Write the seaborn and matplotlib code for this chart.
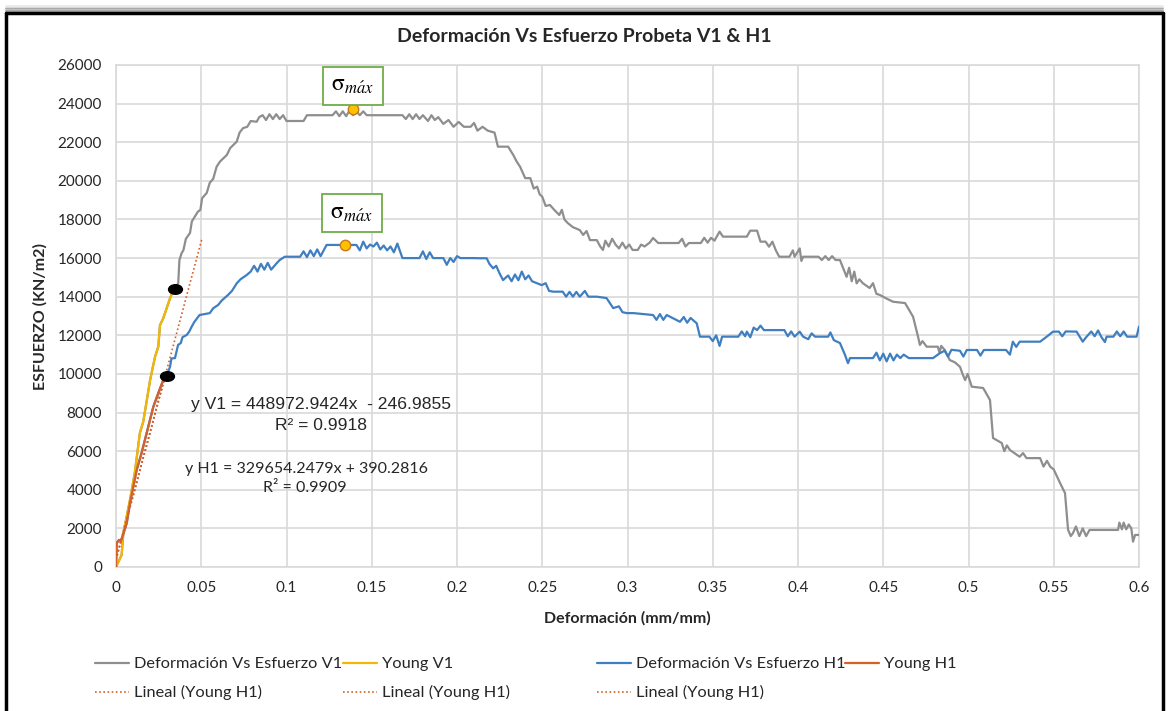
import numpy as np
import pandas as pd
import matplotlib
matplotlib.use("Agg")
import matplotlib.pyplot as plt
import seaborn as sns
from matplotlib.path import Path
from matplotlib.transforms import Affine2D
from matplotlib.lines import Line2D

# ---- elastic (Young) segments ----
young_v1_strain = [0.0, 0.0033, 0.0043, 0.0082, 0.011, 0.014, 0.016, 0.020, 0.0229,
                   0.0248, 0.0258, 0.0277, 0.0317, 0.0336, 0.0346]
young_v1_stress = [0, 620, 1760, 3470, 4870, 6940, 7530, 9680, 10890,
                   11410, 12530, 12880, 13920, 14350, 14400]

young_h1_strain = [0.0, 0.0004, 0.0018, 0.003, 0.0063, 0.0082, 0.0121, 0.015, 0.018,
                   0.0219, 0.0248, 0.0277, 0.0297]
young_h1_stress = [0, 1240, 1400, 1350, 2280, 3310, 5020, 5900, 6940,
                   8300, 9000, 9680, 9910]

# ---- post-elastic part, specimen V1 ----
v1_strain = [0.0365, 0.0372, 0.0385, 0.0395, 0.041, 0.0434, 0.0445, 0.048, 0.0495, 0.0505,
             0.0532, 0.055, 0.057, 0.059, 0.061, 0.065, 0.067, 0.0708, 0.0725, 0.0745,
             0.077, 0.079, 0.0825, 0.084, 0.086, 0.088, 0.090, 0.092, 0.094, 0.096,
             0.098, 0.100, 0.110, 0.112, 0.114, 0.127, 0.129, 0.131, 0.133, 0.135,
             0.137, 0.139, 0.141, 0.143, 0.145, 0.147, 0.168, 0.170, 0.172, 0.174,
             0.176, 0.178, 0.180, 0.183, 0.185, 0.187, 0.189, 0.192, 0.195, 0.198,
             0.201, 0.204, 0.208, 0.210, 0.212, 0.215, 0.218, 0.222, 0.224, 0.230,
             0.233, 0.235, 0.237, 0.240, 0.243, 0.245, 0.247, 0.2485, 0.250, 0.252,
             0.2545, 0.257, 0.260, 0.2615, 0.263, 0.265, 0.268, 0.272, 0.274, 0.276,
             0.278, 0.282, 0.284, 0.2856, 0.287, 0.289, 0.291, 0.293, 0.295, 0.297,
             0.299, 0.301, 0.303, 0.306, 0.308, 0.310, 0.313, 0.315, 0.318, 0.330,
             0.332, 0.334, 0.336, 0.343, 0.345, 0.347, 0.349, 0.351, 0.354, 0.356,
             0.370, 0.372, 0.376, 0.378, 0.381, 0.383, 0.385, 0.387, 0.389, 0.395,
             0.397, 0.398, 0.401, 0.402, 0.403, 0.412, 0.414, 0.416, 0.418, 0.420,
             0.422, 0.4246, 0.4285, 0.430, 0.4315, 0.433, 0.4344, 0.436, 0.438, 0.442,
             0.444, 0.446, 0.448, 0.452, 0.4557, 0.4628, 0.4675, 0.4704, 0.4715, 0.473,
             0.4755, 0.482, 0.483, 0.484, 0.486, 0.489, 0.492, 0.495, 0.4965, 0.498,
             0.4995, 0.5019, 0.5086, 0.5126, 0.5144, 0.517, 0.5195, 0.521, 0.5225, 0.5243,
             0.530, 0.532, 0.534, 0.542, 0.544, 0.546, 0.548, 0.550, 0.5537, 0.5566,
             0.5584, 0.560, 0.5613, 0.563, 0.565, 0.567, 0.569, 0.571, 0.5877, 0.5885,
             0.590, 0.591, 0.5925, 0.594, 0.5955, 0.5965, 0.5977, 0.600]
v1_stress = [14700, 15900, 16260, 16400, 17000, 17300, 17900, 18400, 18500, 19100,
             19370, 19900, 20100, 20730, 21000, 21340, 21700, 22030, 22500, 22730,
             22800, 23100, 23060, 23300, 23400, 23150, 23450, 23200, 23450, 23200,
             23400, 23100, 23100, 23400, 23400, 23400, 23600, 23350, 23600, 23350,
             23650, 23400, 23600, 23400, 23600, 23400, 23400, 23200, 23450, 23200,
             23450, 23200, 23400, 23100, 23400, 23150, 23300, 22950, 23150, 22800,
             23050, 22800, 22800, 23000, 22600, 22800, 22600, 22500, 21770, 21770,
             21340, 21000, 20730, 20140, 20140, 19600, 19700, 19300, 19180, 18700,
             18750, 18500, 18230, 18500, 18000, 17810, 17600, 17450, 17200, 17400,
             16930, 16930, 16600, 16420, 16900, 16600, 17000, 16700, 16500, 16800,
             16500, 16700, 16420, 16420, 16700, 16600, 16800, 17040, 16780, 16780,
             17000, 16600, 16780, 16780, 17050, 16800, 17050, 16900, 17370, 17110,
             17110, 17420, 17420, 16850, 16850, 16590, 16850, 16400, 16070, 16070,
             16400, 16070, 16500, 15850, 16070, 16070, 15900, 16100, 15900, 16100,
             15900, 15900, 15030, 15500, 14800, 15300, 14690, 14900, 14700, 14450,
             14700, 14150, 14090, 13900, 13740, 13670, 12960, 11930, 11500, 11700,
             11410, 11410, 11100, 11450, 11250, 10720, 10600, 10370, 10000, 9680,
             10000, 9340, 9270, 8650, 6680, 6550, 6420, 6000, 6300, 6060,
             5710, 5900, 5640, 5640, 5200, 5500, 5190, 5050, 4350, 3830,
             1920, 1600, 1760, 2100, 1600, 2000, 1600, 1920, 1920, 2300,
             1950, 2300, 1950, 2200, 2000, 1310, 1660, 1660]

# ---- post-elastic part, specimen H1 ----
h1_strain = [0.0317, 0.0325, 0.0346, 0.0364, 0.038, 0.039, 0.0415, 0.043, 0.0444, 0.046,
             0.049, 0.055, 0.057, 0.0599, 0.062, 0.0657, 0.068, 0.0708, 0.073, 0.0766,
             0.079, 0.081, 0.083, 0.085, 0.087, 0.089, 0.091, 0.0942, 0.096, 0.099,
             0.108, 0.110, 0.112, 0.114, 0.116, 0.118, 0.120, 0.1235, 0.141, 0.143,
             0.145, 0.147, 0.149, 0.151, 0.153, 0.155, 0.157, 0.159, 0.161, 0.163,
             0.165, 0.168, 0.178, 0.180, 0.182, 0.184, 0.186, 0.192, 0.194, 0.196,
             0.198, 0.200, 0.202, 0.210, 0.2135, 0.2174, 0.219, 0.2212, 0.223, 0.225,
             0.227, 0.230, 0.232, 0.234, 0.236, 0.238, 0.240, 0.242, 0.244, 0.2497,
             0.252, 0.254, 0.2565, 0.262, 0.264, 0.266, 0.268, 0.270, 0.272, 0.275,
             0.277, 0.282, 0.2877, 0.2916, 0.295, 0.297, 0.2995, 0.3035, 0.315, 0.317,
             0.319, 0.321, 0.323, 0.3308, 0.333, 0.335, 0.337, 0.3406, 0.3425, 0.348,
             0.350, 0.352, 0.354, 0.3555, 0.365, 0.367, 0.369, 0.370, 0.372, 0.374,
             0.376, 0.378, 0.380, 0.392, 0.394, 0.396, 0.398, 0.401, 0.403, 0.406,
             0.408, 0.410, 0.4177, 0.419, 0.421, 0.4246, 0.4275, 0.4293, 0.4305, 0.444,
             0.446, 0.448, 0.450, 0.452, 0.454, 0.456, 0.458, 0.460, 0.462, 0.465,
             0.4792, 0.4833, 0.486, 0.488, 0.490, 0.495, 0.497, 0.499, 0.505, 0.507,
             0.509, 0.522, 0.5243, 0.526, 0.528, 0.530, 0.542, 0.5459, 0.5496, 0.553,
             0.555, 0.557, 0.5634, 0.567, 0.569, 0.572, 0.574, 0.576, 0.578, 0.580,
             0.581, 0.585, 0.587, 0.589, 0.591, 0.593, 0.5986, 0.600]
h1_stress = [10370, 10800, 10820, 11500, 11600, 11900, 12020, 12200, 12450, 12700,
             13050, 13150, 13400, 13570, 13800, 14090, 14300, 14690, 14900, 15120,
             15300, 15600, 15300, 15700, 15400, 15750, 15400, 15730, 15900, 16070,
             16070, 16350, 16050, 16400, 16100, 16450, 16100, 16680, 16680, 16400,
             16850, 16500, 16700, 16600, 16800, 16450, 16650, 16400, 16600, 16300,
             16750, 16000, 16000, 16350, 15950, 16300, 16000, 16000, 15650, 16000,
             15800, 16100, 16000, 16000, 15990, 15990, 15700, 15470, 15600, 15200,
             14860, 15100, 14800, 15150, 14850, 15300, 14900, 15100, 14800, 14600,
             14700, 14300, 14260, 14260, 14000, 14250, 14000, 14250, 14000, 14300,
             14000, 14000, 13930, 13410, 13500, 13200, 13150, 13150, 13050, 12800,
             13100, 12800, 13050, 12700, 12950, 12650, 12900, 12620, 11930, 11930,
             11700, 12000, 11450, 11930, 11930, 12200, 11950, 12190, 11900, 12400,
             12270, 12500, 12270, 12270, 11950, 12200, 11930, 12190, 11930, 11800,
             12100, 11930, 11930, 12150, 11750, 11600, 11000, 10560, 10820, 10820,
             11100, 10700, 11050, 10650, 11050, 10700, 11000, 10820, 11000, 10820,
             10820, 11080, 11200, 10900, 11250, 11200, 10900, 11240, 11240, 10950,
             11240, 11240, 11000, 11670, 11400, 11670, 11670, 11930, 12190, 12190,
             11950, 12200, 12190, 11670, 11900, 12200, 11950, 12250, 11900, 11650,
             11930, 11930, 12200, 11950, 12200, 11930, 11930, 12450]

# ---- maximum stresses ----
peak_v1 = (0.1388, 23700)
peak_h1 = (0.1343, 16680)

# ---- linear fit of the H1 elastic segment ----
fit_h1_slope, fit_h1_intercept = 329654.2479, 390.2816
trend_ranges = [(0.0, 0.0505), (0.0, 0.0297), (0.0, 0.0297)]

# ---- labels ----
title = "Deformación Vs Esfuerzo Probeta V1 & H1"
xlabel = "Deformación (mm/mm)"
ylabel = "ESFUERZO (KN/m2)"
eq_v1 = "y V1 = 448972.9424x  - 246.9855"
r2_v1 = "R² = 0.9918"
eq_h1 = "y H1 = 329654.2479x + 390.2816"
r2_h1 = "R² = 0.9909"
x_ticks = [0, 0.05, 0.1, 0.15, 0.2, 0.25, 0.3, 0.35, 0.4, 0.45, 0.5, 0.55, 0.6]
x_tick_labels = ["0", "0.05", "0.1", "0.15", "0.2", "0.25", "0.3", "0.35", "0.4",
                 "0.45", "0.5", "0.55", "0.6"]
y_ticks = list(range(0, 26001, 2000))

C_GRAY = "#8E8E8E"
C_YELLOW = "#F2B705"
C_BLUE = "#3F7FC1"
C_ORANGE = "#D5612A"
C_GRID = "#D9D9D9"
C_TEXT = "#262626"
DOTTED = (0, (1, 1.5))

sns.set_theme(style="whitegrid")
plt.rcParams["font.family"] = ["Lato", "DejaVu Sans"]
plt.rcParams["mathtext.fontset"] = "stix"

fig = plt.figure(figsize=(11.68, 7.11), dpi=100)
ax = fig.add_axes([116 / 1168, 1 - 567 / 711, 1023 / 1168, 502 / 711])
ax.set_facecolor("white")

v1_df = pd.DataFrame({"strain": young_v1_strain + v1_strain,
                      "stress": young_v1_stress + v1_stress})
h1_df = pd.DataFrame({"strain": young_h1_strain + h1_strain,
                      "stress": young_h1_stress + h1_stress})
yv1_df = pd.DataFrame({"strain": young_v1_strain, "stress": young_v1_stress})
yh1_df = pd.DataFrame({"strain": young_h1_strain, "stress": young_h1_stress})

lw = 1.6
sns.lineplot(data=v1_df, x="strain", y="stress", sort=False, estimator=None,
             color=C_GRAY, lw=lw, ax=ax, zorder=3)
sns.lineplot(data=h1_df, x="strain", y="stress", sort=False, estimator=None,
             color=C_BLUE, lw=lw, ax=ax, zorder=3)
sns.lineplot(data=yv1_df, x="strain", y="stress", sort=False, estimator=None,
             color=C_YELLOW, lw=lw, ax=ax, zorder=4)
sns.lineplot(data=yh1_df, x="strain", y="stress", sort=False, estimator=None,
             color=C_ORANGE, lw=lw, ax=ax, zorder=4)

for x0, x1 in trend_ranges:
    xs = np.array([x0, x1])
    sns.lineplot(x=xs, y=fit_h1_slope * xs + fit_h1_intercept, color=C_ORANGE, lw=1.2,
                 ax=ax, zorder=5, linestyle=DOTTED)

# end-of-elastic-range markers
ellipse = Path.unit_circle().transformed(Affine2D().scale(1.45, 1.0))
ax.plot([young_v1_strain[-1], young_h1_strain[-1]],
        [young_v1_stress[-1], young_h1_stress[-1]],
        linestyle="none", marker=ellipse, markersize=10, color="black", zorder=6)

# maximum-stress markers and callouts
for (px, py), off in [(peak_v1, (0, 17)), (peak_h1, (5, 23))]:
    ax.plot([px], [py], linestyle="none", marker="o", markersize=7.5,
            markerfacecolor="#FFC000", markeredgecolor="#C9781A", markeredgewidth=1.0,
            zorder=7)
    ax.annotate(r"$\mathrm{σ}_{m\acute{a}x}$", xy=(px, py), xytext=off,
                textcoords="offset points", ha="center", va="center",
                fontsize=17, color="black", zorder=8,
                bbox=dict(boxstyle="square,pad=0.36", fc="white", ec="#70AD47", lw=1.3))

# regression equations
ax.text(0.1205, 8420, eq_v1, ha="center", va="center",
        fontsize=12.6, family=["Liberation Sans", "DejaVu Sans"], color=C_TEXT)
ax.text(0.1205, 7330, r2_v1, ha="center", va="center",
        fontsize=12.6, family=["Liberation Sans", "DejaVu Sans"], color=C_TEXT)
ax.text(0.0405, 5100, eq_h1, ha="left", va="center", fontsize=11.5, color=C_TEXT)
ax.text(0.1109, 4080, r2_h1, ha="center", va="center", fontsize=11.5, color=C_TEXT)

ax.set_xlim(0, 0.6)
ax.set_ylim(0, 26000)
ax.set_xticks(x_ticks)
ax.set_xticklabels(x_tick_labels)
ax.set_yticks(y_ticks)
ax.grid(True, color=C_GRID, lw=1.2)
ax.tick_params(axis="both", length=0, labelsize=11, colors=C_TEXT, pad=10)
for s in ax.spines.values():
    s.set_color(C_GRID)
    s.set_linewidth(1.2)

ax.set_xlabel(xlabel, fontsize=11.5, fontweight="bold", color=C_TEXT, labelpad=12)
ax.set_ylabel(ylabel, fontsize=11.5, fontweight="bold", color=C_TEXT, labelpad=7)
fig.text(0.5, 1 - 37 / 711, title, ha="center", va="center",
         fontsize=14, fontweight="bold", color=C_TEXT)

# legend: four columns placed like the chart's legend grid
entries = [
    [(Line2D([], [], color=C_GRAY, lw=lw), "Deformación Vs Esfuerzo V1"),
     (Line2D([], [], color=C_ORANGE, lw=1.2, linestyle=DOTTED), "Lineal (Young H1)")],
    [(Line2D([], [], color=C_YELLOW, lw=lw), "Young V1"),
     (Line2D([], [], color=C_ORANGE, lw=1.2, linestyle=DOTTED), "Lineal (Young H1)")],
    [(Line2D([], [], color=C_BLUE, lw=lw), "Deformación Vs Esfuerzo H1"),
     (Line2D([], [], color=C_ORANGE, lw=1.2, linestyle=DOTTED), "Lineal (Young H1)")],
    [(Line2D([], [], color=C_ORANGE, lw=lw), "Young H1")],
]
col_x = [95, 343, 597, 845]
for cx, col in zip(col_x, entries):
    leg = fig.legend([h for h, _ in col], [t for _, t in col], loc="upper left",
                     bbox_to_anchor=(cx / 1168, 1 - 657 / 711), frameon=False,
                     fontsize=11.8, handlelength=2.1, handletextpad=0.3,
                     labelspacing=0.85, borderpad=0, borderaxespad=0)
    for t in leg.get_texts():
        t.set_color(C_TEXT)

# chart-area frame with a soft shadow
for i, a in enumerate([0.08, 0.14, 0.22, 0.32]):
    y = 1 - (6 + i * 1.5) / 711
    fig.add_artist(Line2D([6 / 1168, 1163 / 1168], [y, y], color="black", alpha=a,
                          lw=1.5, transform=fig.transFigure))
fig.add_artist(Line2D([6 / 1168, 1163 / 1168], [1 - 13 / 711, 1 - 13 / 711],
                      color="black", lw=2.5, transform=fig.transFigure))
fig.add_artist(Line2D([6 / 1168, 6 / 1168], [0, 1 - 13 / 711],
                      color="black", lw=2.5, transform=fig.transFigure))
fig.add_artist(Line2D([1163 / 1168, 1163 / 1168], [0, 1 - 13 / 711],
                      color="black", lw=2.5, transform=fig.transFigure))

fig.savefig("out.png", dpi=100, facecolor="white")
